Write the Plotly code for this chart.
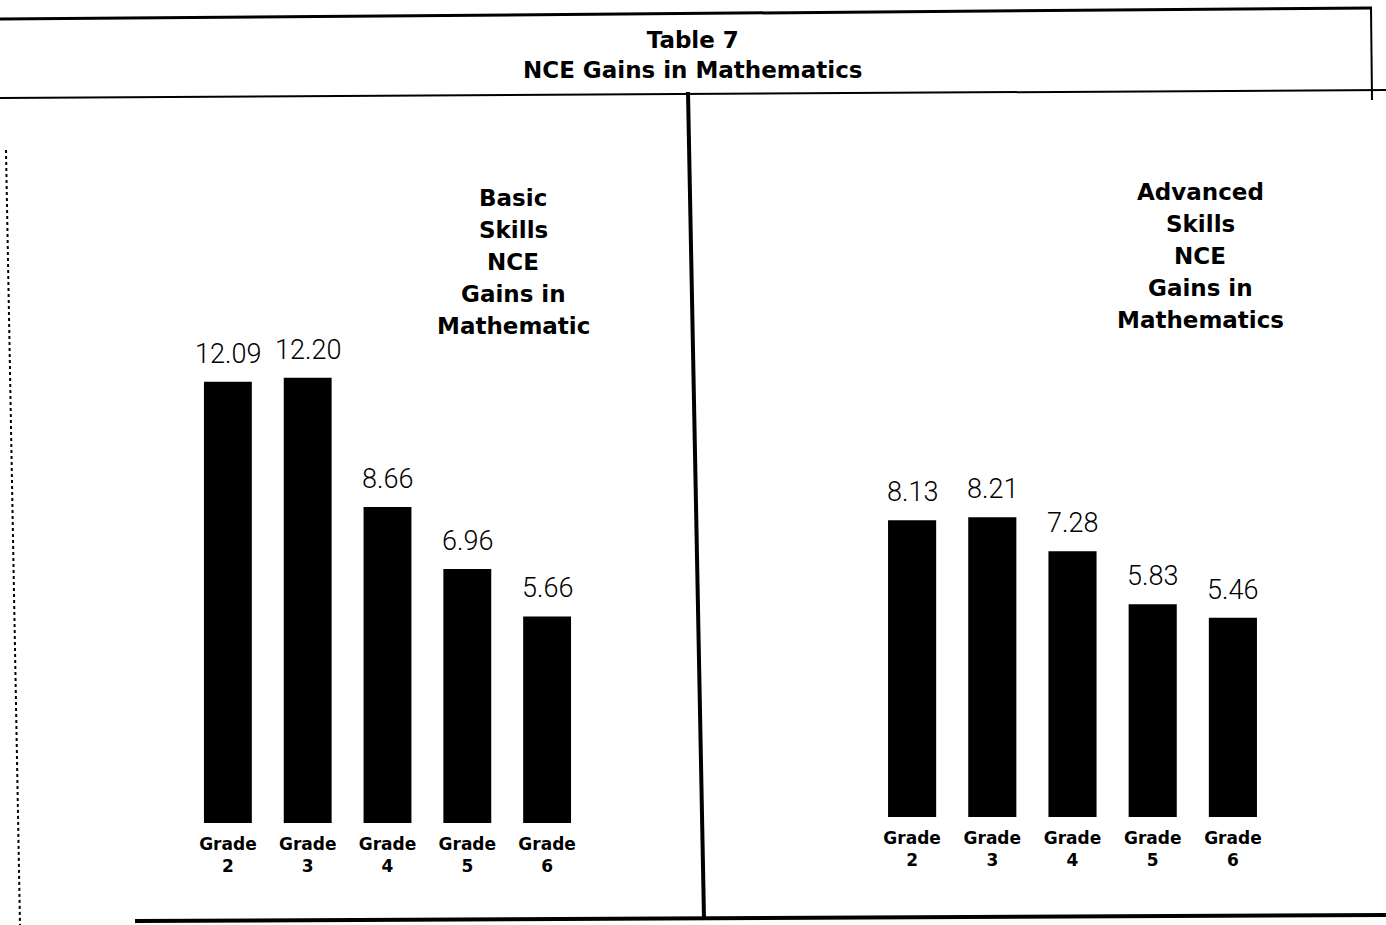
import plotly.graph_objects as go

grades = ["Grade<br>2", "Grade<br>3", "Grade<br>4", "Grade<br>5", "Grade<br>6"]
basic_gains = [12.09, 12.20, 8.66, 6.96, 5.66]
advanced_gains = [8.13, 8.21, 7.28, 5.83, 5.46]

title_lines = ["Table 7", "NCE Gains in Mathematics"]
basic_title = ["Basic", "Skills", "NCE", "Gains in", "Mathematic"]
advanced_title = ["Advanced", "Skills", "NCE", "Gains in", "Mathematics"]

W, H = 1386, 925


def px(x):
    return x / W


def py(y):
    return 1 - y / H


fig = go.Figure()
fig.add_trace(go.Bar(x=grades, y=basic_gains, marker=dict(color="black", line=dict(width=0)),
                     xaxis="x", yaxis="y", showlegend=False, hoverinfo="skip"))
fig.add_trace(go.Bar(x=grades, y=advanced_gains, marker=dict(color="black", line=dict(width=0)),
                     xaxis="x2", yaxis="y2", showlegend=False, hoverinfo="skip"))

num_font = dict(family="Roboto", size=27, color="black", weight=300)
annotations = []
for g, v in zip(grades, basic_gains):
    annotations.append(dict(x=g, y=v, xref="x", yref="y", text=f"{v:.2f}", showarrow=False,
                            yanchor="bottom", yshift=10, font=num_font))
for g, v in zip(grades, advanced_gains):
    annotations.append(dict(x=g, y=v, xref="x2", yref="y2", text=f"{v:.2f}", showarrow=False,
                            yanchor="bottom", yshift=10, font=num_font))

head_font = dict(family="DejaVu Sans", size=23, color="black", weight="bold")
annotations.append(dict(x=0.5, y=py(55), xref="paper", yref="paper", text="<br>".join(title_lines),
                        showarrow=False, font=head_font, xanchor="center", yanchor="middle"))
for i, line in enumerate(basic_title):
    annotations.append(dict(x=px(513), y=py(198 + 32 * i), xref="paper", yref="paper", text=line,
                            showarrow=False, font=head_font, xanchor="center", yanchor="middle"))
for i, line in enumerate(advanced_title):
    annotations.append(dict(x=px(1200), y=py(192 + 32 * i), xref="paper", yref="paper", text=line,
                            showarrow=False, font=head_font, xanchor="center", yanchor="middle"))

line_segments = [
    ((0, 19), (1372, 8), 3, "solid"),
    ((1371, 8), (1372, 100), 2, "solid"),
    ((0, 98), (1386, 90), 2, "solid"),
    ((688, 92), (704, 918), 4, "solid"),
    ((135, 921), (1386, 915), 4, "solid"),
    ((6, 150), (20, 925), 2, "dot"),
]
shapes = []
for (x0, y0), (x1, y1), w, d in line_segments:
    shapes.append(dict(type="line", xref="paper", yref="paper", x0=px(x0), y0=py(y0), x1=px(x1), y1=py(y1),
                       line=dict(color="black", width=w, dash=d)))

tick_font = dict(family="DejaVu Sans", size=17, color="black", weight="bold")
xcommon = dict(type="category", range=[-0.5, 4.5], showgrid=False, zeroline=False, showline=False,
               ticks="", tickfont=tick_font, fixedrange=True, ticklabelstandoff=9)
ycommon = dict(range=[0, 18], showgrid=False, zeroline=False, showline=False, showticklabels=False,
               ticks="", fixedrange=True)

fig.update_layout(
    width=W, height=H,
    margin=dict(l=0, r=0, t=0, b=0),
    paper_bgcolor="white", plot_bgcolor="white",
    bargap=0.4,
    xaxis=dict(domain=[px(188), px(587)], anchor="y", **xcommon),
    yaxis=dict(domain=[py(823), py(166)], anchor="x", **ycommon),
    xaxis2=dict(domain=[px(872), px(1273)], anchor="y2", **xcommon),
    yaxis2=dict(domain=[py(817), py(160)], anchor="x2", **ycommon),
    annotations=annotations,
    shapes=shapes,
)

fig.write_html("out.html")
